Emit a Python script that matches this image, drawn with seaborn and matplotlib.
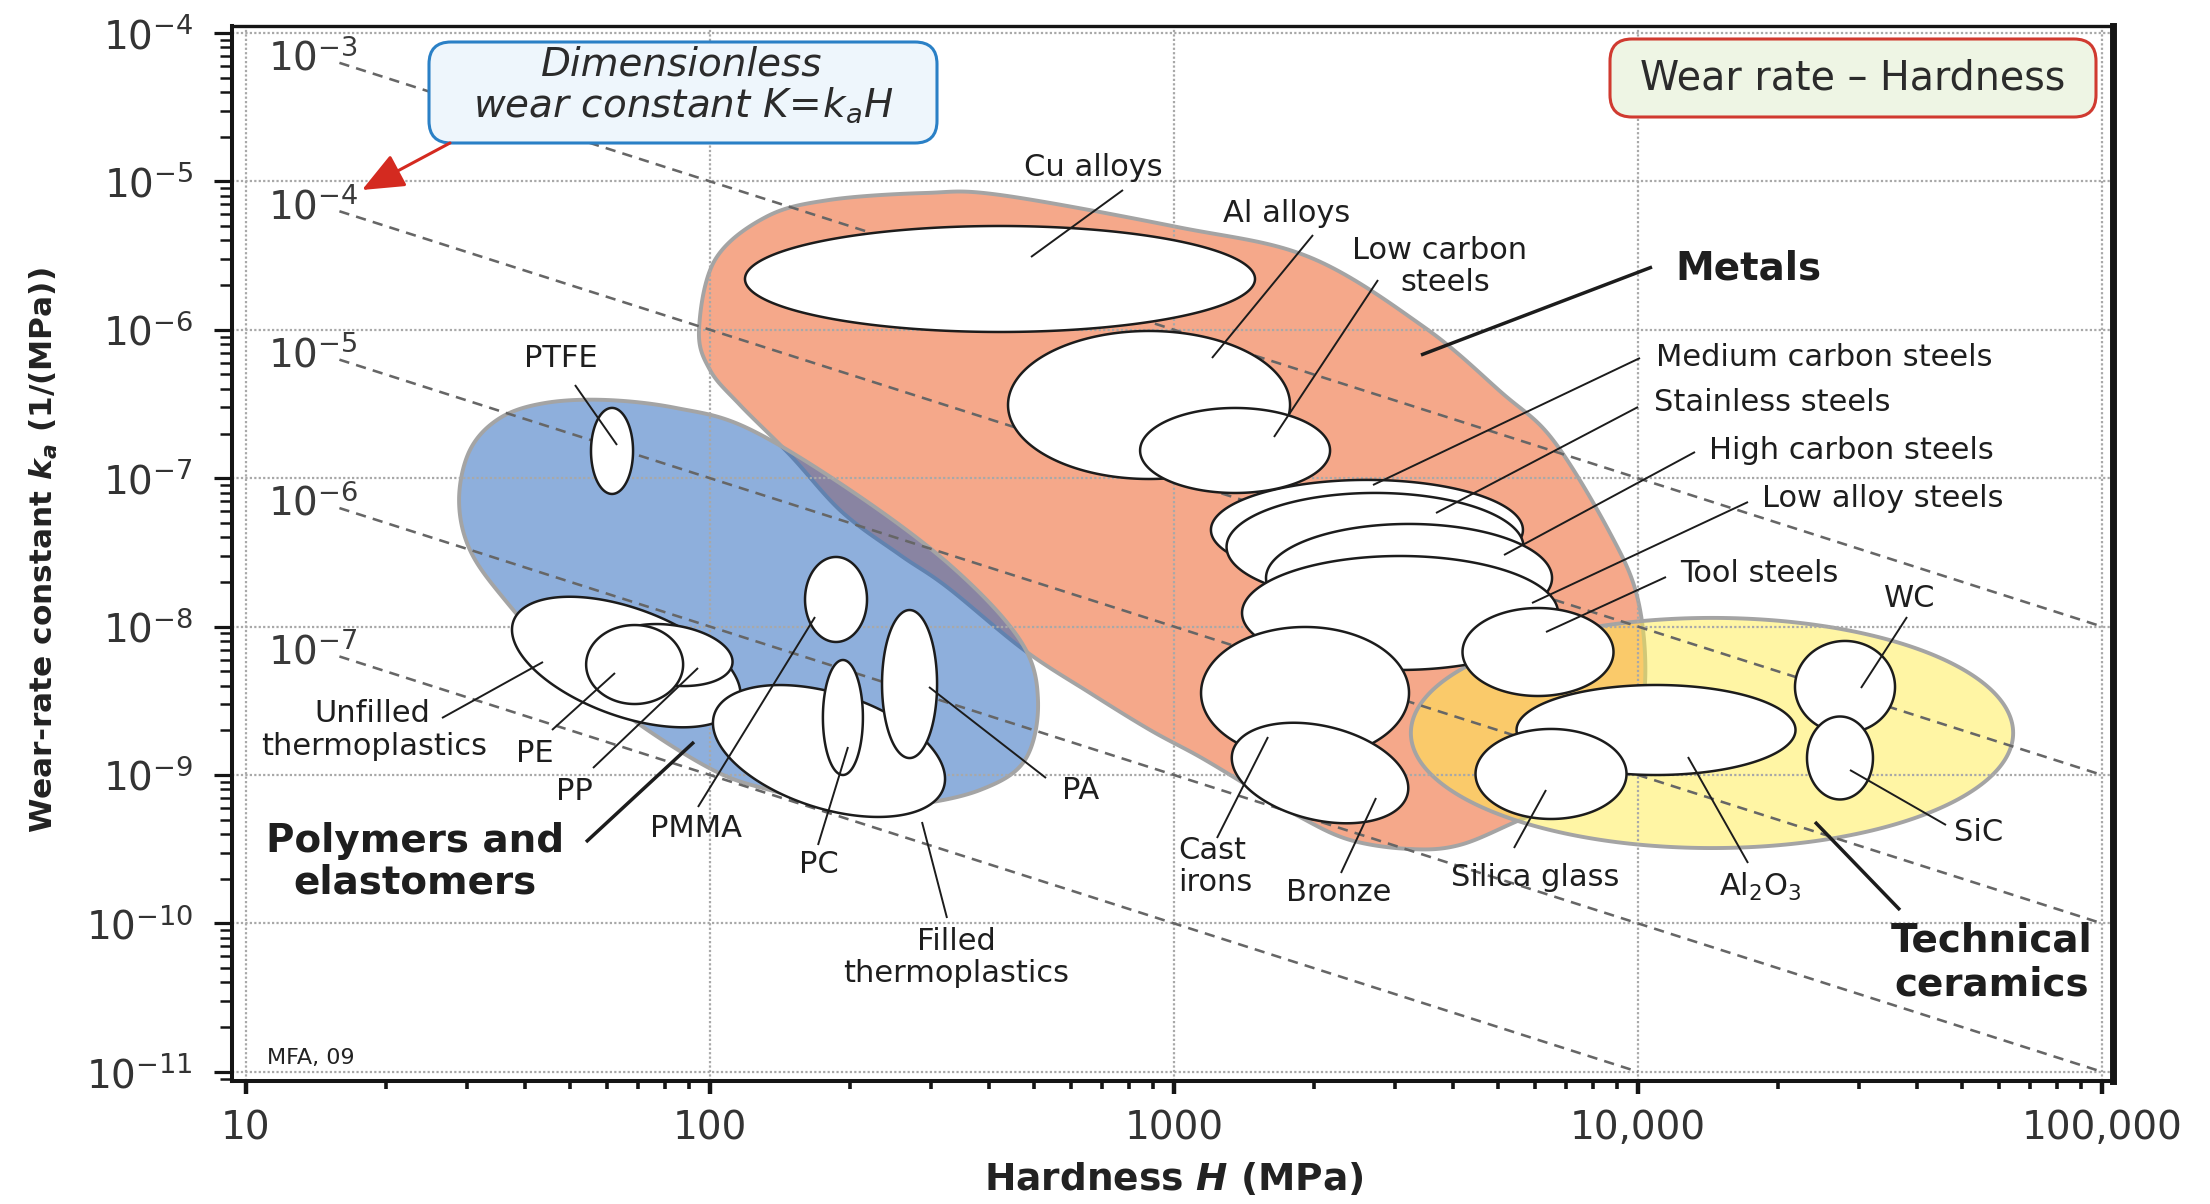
import numpy as np
import pandas as pd
import matplotlib
matplotlib.use("Agg")
import matplotlib.pyplot as plt
import seaborn as sns
from matplotlib.patches import FancyBboxPatch
from matplotlib.ticker import LogLocator, NullFormatter

# ======================= DATA =======================
x_limits = [9.33, 1.056e5]
y_limits = [8.67e-12, 1.114e-4]
x_ticks = [10, 100, 1000, 10000, 100000]
x_tick_labels = ["10", "100", "1000", "10,000", "100,000"]
y_ticks = [1e-11, 1e-10, 1e-9, 1e-8, 1e-7, 1e-6, 1e-5, 1e-4]
y_tick_labels = [r"$\mathregular{10^{-11}}$", r"$\mathregular{10^{-10}}$", r"$\mathregular{10^{-9}}$",
                 r"$\mathregular{10^{-8}}$", r"$\mathregular{10^{-7}}$", r"$\mathregular{10^{-6}}$",
                 r"$\mathregular{10^{-5}}$", r"$\mathregular{10^{-4}}$"]

# guide lines of constant dimensionless wear constant K = ka * H
K_values = [1e-3, 1e-4, 1e-5, 1e-6, 1e-7]
K_labels = [r"$\mathregular{10^{-3}}$", r"$\mathregular{10^{-4}}$", r"$\mathregular{10^{-5}}$",
            r"$\mathregular{10^{-6}}$", r"$\mathregular{10^{-7}}$"]
K_H_start = [15.9, 15.9, 15.9, 15.9, 15.9]
K_H_end = [1e5, 1e5, 1e5, 1e5, 1e4]
K_label_H = 11.15

# material-family envelopes (boundary points, H in MPa, ka in 1/MPa)
metals_env_H = [94.7, 102.5, 132.0, 180.5, 290.6, 421.7, 1015, 1954, 3457, 5093, 6559, 8702,
                10000, 10354, 9612, 7882, 5568, 4134, 3226, 2394, 1869, 1458, 1138, 888,
                659.2, 475.0, 324.2, 256.7, 192.5, 148.8, 116.1, 100.0]
metals_env_k = [9.97e-7, 2.954e-6, 5.756e-6, 7.49e-6, 8.35e-6, 8.10e-6, 4.93e-6, 3.095e-6,
                1.044e-6, 3.75e-7, 1.809e-7, 4.27e-8, 1.511e-8, 4.17e-9, 1.474e-9, 7.92e-10,
                4.98e-10, 3.38e-10, 3.17e-10, 3.65e-10, 5.21e-10, 8.30e-10, 1.322e-9, 2.01e-9,
                3.57e-9, 6.96e-9, 1.848e-8, 3.04e-8, 5.92e-8, 1.433e-7, 3.11e-7, 5.36e-7]
polymers_env_H = [28.79, 30.39, 35.27, 44.10, 59.7, 84.5, 120.2, 200.3, 329.0, 465.7, 509.2,
                  477.4, 381.9, 269.8, 190.6, 134.7, 101.5, 68.3, 47.5, 36.15, 30.39]
polymers_env_k = [7.13e-8, 1.549e-7, 2.544e-7, 3.21e-7, 3.365e-7, 2.972e-7, 2.18e-7, 8.33e-8,
                  2.602e-8, 8.12e-9, 3.20e-9, 1.262e-9, 7.92e-10, 6.28e-10, 6.28e-10, 7.92e-10,
                  1.080e-9, 2.35e-9, 5.95e-9, 1.511e-8, 3.28e-8]
ceramics_env_H = 14437
ceramics_env_k = 1.919e-9
ceramics_env_a = 0.649
ceramics_env_b = 0.248

# individual material bubbles (drawing order = stacking order)
bubble_names = ["Unfilled thermoplastics", "PP", "PE", "PTFE", "Filled thermoplastics", "PMMA",
                "PC", "PA", "Al2O3", "Silica glass", "Cu alloys", "Al alloys",
                "Medium carbon steels", "Stainless steels", "High carbon steels",
                "Low alloy steels", "Low carbon steels", "Tool steels", "Cast irons", "Bronze",
                "WC", "SiC"]
bubble_H = [66.0, 82.0, 68.8, 61.5, 180.5, 186.9, 193.4, 269.2, 10935, 6494, 421.7, 883.5,
            2605, 2712, 3210, 3070, 1354, 6088, 1916, 2064, 27931, 27245]
bubble_k = [5.77e-9, 6.43e-9, 5.55e-9, 1.526e-7, 1.451e-9, 1.523e-8, 2.44e-9, 4.10e-9,
            2.01e-9, 1.016e-9, 2.199e-6, 3.113e-7, 4.48e-8, 3.44e-8, 2.126e-8, 1.235e-8,
            1.537e-7, 6.74e-9, 3.57e-9, 1.031e-9, 3.92e-9, 1.302e-9]
# semi-axes in screen decades (of H) and tilt in degrees
bubble_a = [0.2586, 0.1358, 0.1045, 0.0453, 0.2595, 0.0668, 0.0431, 0.0593, 0.3006, 0.1627,
            0.5496, 0.3039, 0.3362, 0.3200, 0.3082, 0.3405, 0.2047, 0.1627, 0.2241, 0.1940,
            0.1078, 0.0711]
bubble_b = [0.1164, 0.0647, 0.0851, 0.0927, 0.1241, 0.0916, 0.1239, 0.1595, 0.0970, 0.0970,
            0.1142, 0.1595, 0.1078, 0.1164, 0.1164, 0.1228, 0.0916, 0.0948, 0.1422, 0.1013,
            0.0991, 0.0894]
bubble_tilt = [-20, -8, 0, 0, -17.7, 0, 0, 0, 0, 0, 0, 0, 0, 0, 0, 0, 0, 0, 0, -13.4, 0, 0]

# ======================= STYLE / LAYOUT =======================
sns.set_theme(style="white")
plt.rcParams["font.family"] = ["DejaVu Sans"]
plt.rcParams["mathtext.fontset"] = "dejavusans"

FIG_W, FIG_H = 2210, 1204
AX_L, AX_T, AX_R, AX_B = 232, 26, 2113, 1081
AX_W, AX_H = AX_R - AX_L, AX_B - AX_T

fig = plt.figure(figsize=(FIG_W / 100, FIG_H / 100), dpi=100)
ax = fig.add_axes([AX_L / FIG_W, (FIG_H - AX_B) / FIG_H, AX_W / FIG_W, AX_H / FIG_H])
ax.set_xscale("log")
ax.set_yscale("log")
ax.set_xlim(*x_limits)
ax.set_ylim(*y_limits)

xdec = np.log10(x_limits[1]) - np.log10(x_limits[0])
ydec = np.log10(y_limits[1]) - np.log10(y_limits[0])
R_ASPECT = (AX_H / ydec) / (AX_W / xdec)   # screen length of a k-decade relative to an H-decade


def ref(X, Y):
    """reference-layout pixel position -> axes fraction"""
    return (X - AX_L) / AX_W, (AX_B - Y) / AX_H


def ellipse(H, k, a, b, tilt, n=300):
    t = np.linspace(0, 2 * np.pi, n)
    th = np.deg2rad(tilt)
    du = a * np.cos(t) * np.cos(th) - b * np.sin(t) * np.sin(th)
    dv = a * np.cos(t) * np.sin(th) + b * np.sin(t) * np.cos(th)
    u0, v0 = np.log10(H), np.log10(k) * R_ASPECT
    return 10 ** (u0 + du), 10 ** ((v0 + dv) / R_ASPECT)


def smooth_closed(H, k, n=24):
    P = np.column_stack([np.log10(H), np.log10(k) * R_ASPECT])
    N = len(P)
    t = np.linspace(0, 1, n, endpoint=False)[:, None]
    segs = []
    for i in range(N):
        p0, p1, p2, p3 = P[(i - 1) % N], P[i], P[(i + 1) % N], P[(i + 2) % N]
        segs.append(0.5 * (2 * p1 + (-p0 + p2) * t + (2 * p0 - 5 * p1 + 4 * p2 - p3) * t ** 2
                           + (-p0 + 3 * p1 - 3 * p2 + p3) * t ** 3))
    S = np.vstack(segs + [segs[0][:1]])
    return 10 ** S[:, 0], 10 ** (S[:, 1] / R_ASPECT)


# ---- envelopes ----
env_edge = "#a4a4a4"
mx, my = smooth_closed(metals_env_H, metals_env_k)
ax.fill(mx, my, facecolor="#f5a88a", edgecolor=env_edge, lw=2.8, zorder=1.0)
px, py = smooth_closed(polymers_env_H, polymers_env_k)
ax.fill(px, py, facecolor=(31 / 255, 97 / 255, 187 / 255, 0.5), edgecolor=env_edge, lw=2.8, zorder=1.1)
cx, cy = ellipse(ceramics_env_H, ceramics_env_k, ceramics_env_a, ceramics_env_b, 0)
ax.fill(cx, cy, facecolor=(1.0, 236 / 255, 75 / 255, 0.5), edgecolor=env_edge, lw=2.8, zorder=1.2)

# ---- grid ----
ax.set_axisbelow("line")
ax.grid(True, which="major", color="#a8a8a8", linestyle=(0, (1, 1)), lw=1.6)

# ---- guide lines K = ka H ----
rows = []
for K, h0, h1 in zip(K_values, K_H_start, K_H_end):
    rows.append({"K": K, "H": h0, "k": K / h0})
    rows.append({"K": K, "H": h1, "k": K / h1})
guide = pd.DataFrame(rows)
sns.lineplot(data=guide, x="H", y="k", units="K", estimator=None, color="#666666",
             lw=1.85, linestyle=(0, (4.0, 2.8)), ax=ax, zorder=2, legend=False)
for K, lab in zip(K_values, K_labels):
    ax.text(K_label_H, K / 17.8, lab, ha="left", va="baseline", fontsize=28, color="#3a3a3a", zorder=2.5)

# ---- bubbles ----
for i, (H, k, a, b, tl) in enumerate(zip(bubble_H, bubble_k, bubble_a, bubble_b, bubble_tilt)):
    ex, ey = ellipse(H, k, a, b, tl)
    ax.fill(ex, ey, facecolor="white", edgecolor="#1c1c1c", lw=1.8, zorder=3 + 0.01 * i)

# ---- leader lines & labels ----
leaders = [  # (X1, Y1, X2, Y2, bold)
    (575, 385, 617, 445, False), (442, 718, 543, 662, False), (552, 730, 615, 673, False),
    (593, 768, 698, 668, False), (698, 807, 815, 617, False), (818, 845, 848, 747, False),
    (947, 918, 922, 822, False), (1046, 778, 929, 687, False), (1123, 190, 1031, 257, False),
    (1313, 235, 1212, 358, False), (1378, 280, 1274, 437, False), (1640, 358, 1373, 485, False),
    (1638, 407, 1436, 513, False), (1695, 452, 1504, 555, False), (1748, 502, 1532, 603, False),
    (1666, 577, 1546, 632, False), (1907, 617, 1861, 688, False), (1946, 825, 1850, 770, False),
    (1217, 838, 1268, 737, False), (1341, 873, 1376, 798, False), (1514, 848, 1546, 790, False),
    (1748, 863, 1688, 757, False),
    (1652, 267, 1421, 355, True), (586, 842, 694, 742, True), (1900, 910, 1815, 822, True),
]
for X1, Y1, X2, Y2, bold in leaders:
    a1, b1 = ref(X1, Y1)
    a2, b2 = ref(X2, Y2)
    ax.plot([a1, a2], [b1, b2], transform=ax.transAxes, color="#1c1c1c",
            lw=2.5 if bold else 1.4, zorder=6, solid_capstyle="butt")

labels = [  # (text, X, baseline Y, ha, bold)
    ("PTFE", 561, 367, "center", False), ("Unfilled", 372, 722, "center", False),
    ("thermoplastics", 374, 755, "center", False), ("PE", 535, 762, "center", False),
    ("PP", 574, 800, "center", False), ("PMMA", 696, 837, "center", False),
    ("PC", 819, 873, "center", False), ("Filled", 956, 950, "center", False),
    ("thermoplastics", 956, 982, "center", False), ("PA", 1081, 799, "center", False),
    ("Cu alloys", 1093, 176, "center", False), ("Al alloys", 1287, 222, "center", False),
    ("Low carbon", 1440, 259, "center", False), ("steels", 1445, 291, "center", False),
    ("Medium carbon steels", 1656, 366, "left", False), ("Stainless steels", 1654, 411, "left", False),
    ("High carbon steels", 1709, 459, "left", False), ("Low alloy steels", 1762, 507, "left", False),
    ("Tool steels", 1680, 582, "left", False), ("WC", 1910, 607, "center", False),
    ("SiC", 1979, 841, "center", False), ("Cast", 1178, 859, "left", False),
    ("irons", 1178, 891, "left", False), ("Bronze", 1339, 901, "center", False),
    ("Silica glass", 1535, 886, "center", False), (r"Al$_2$O$_3$", 1760, 896, "center", False),
    ("Metals", 1748, 280, "center", True), ("Polymers and", 415, 852, "center", True),
    ("elastomers", 415, 893, "center", True), ("Technical", 1992, 952, "center", True),
    ("ceramics", 1992, 995, "center", True),
]
for txt, X, Y, ha, bold in labels:
    fx, fy = ref(X, Y)
    ax.text(fx, fy, txt, transform=ax.transAxes, ha=ha, va="baseline",
            fontsize=28 if bold else 22, fontweight="bold" if bold else "normal",
            color="#1e1e1e", zorder=7)

fx, fy = ref(267, 1064)
ax.text(fx, fy, "MFA, 09", transform=ax.transAxes, ha="left", va="baseline", fontsize=16,
        color="#222222", zorder=7)


# ---- boxed notes ----
def box(X0, Y0, X1, Y1, fc, ec, radius=22):
    fx0, fy1 = ref(X0, Y1)
    w = (X1 - X0) / AX_W
    h = (Y1 - Y0) / AX_H
    p = FancyBboxPatch((fx0, fy1), w, h, boxstyle=f"round,pad=0,rounding_size={radius / AX_W}",
                       mutation_aspect=AX_W / AX_H, transform=ax.transAxes,
                       facecolor=fc, edgecolor=ec, lw=2.2, zorder=8)
    ax.add_patch(p)


box(429, 42, 937, 143, "#eef6fc", "#2a80c6")
fx, fy = ref(682, 76)
ax.text(fx, fy, "Dimensionless", transform=ax.transAxes, ha="center", va="baseline",
        fontsize=28, style="italic", color="#2b2b2b", zorder=9)
fx, fy = ref(683, 117)
ax.text(fx, fy, r"wear constant $K\!=\!k_aH$", transform=ax.transAxes, ha="center",
        va="baseline", fontsize=28, style="italic", color="#2b2b2b", zorder=9)

box(1610, 39, 2096, 117, "#eef5e4", "#d03a30")
fx, fy = ref(1853, 89)
ax.text(fx, fy, "Wear rate \u2013 Hardness", transform=ax.transAxes, ha="center", va="baseline",
        fontsize=28.5, color="#2b2b2b", zorder=9)

ax.annotate("", xy=ref(362, 190), xytext=ref(450, 143), xycoords="axes fraction",
            textcoords="axes fraction",
            arrowprops=dict(arrowstyle="-|>,head_length=1.3,head_width=0.55", color="#d42a20",
                            lw=2.2, mutation_scale=20, shrinkA=0, shrinkB=0), zorder=9)

# ---- axes styling ----
ax.set_xticks(x_ticks)
ax.set_xticklabels(x_tick_labels)
ax.set_yticks(y_ticks)
ax.set_yticklabels(y_tick_labels)
ax.xaxis.set_minor_locator(LogLocator(base=10, subs=np.arange(2, 10), numticks=30))
ax.yaxis.set_minor_locator(LogLocator(base=10, subs=np.arange(2, 10), numticks=30))
ax.xaxis.set_minor_formatter(NullFormatter())
ax.yaxis.set_minor_formatter(NullFormatter())

ax.tick_params(which="both", bottom=True, left=True, top=False, right=False,
               direction="out", color="#151515")
ax.tick_params(axis="y", which="major", length=13, width=2.3, pad=15, labelsize=28, labelcolor="#333333")
ax.tick_params(axis="y", which="minor", length=8.5, width=1.8)
ax.tick_params(axis="x", which="major", length=9.5, width=3.2, pad=11, labelsize=28, labelcolor="#333333")
ax.tick_params(axis="x", which="minor", length=5.5, width=2.6)

for side, w in (("left", 2.9), ("bottom", 2.9), ("top", 2.4), ("right", 5.0)):
    ax.spines[side].set_visible(True)
    ax.spines[side].set_color("#151515")
    ax.spines[side].set_linewidth(w)
    ax.spines[side].set_zorder(10)

ax.set_xlabel(r"Hardness $\mathbfit{H}$ (MPa)", fontsize=27, fontweight="bold", color="#222222")
ax.set_ylabel(r"Wear-rate constant $\mathbfit{k_a}$ (1/(MPa))", fontsize=22.5, fontweight="bold",
              color="#222222")
ax.xaxis.set_label_coords(*ref(1174, 1161))
ax.yaxis.set_label_coords(*ref(60, 550))

fig.savefig("out.png", dpi=100)
